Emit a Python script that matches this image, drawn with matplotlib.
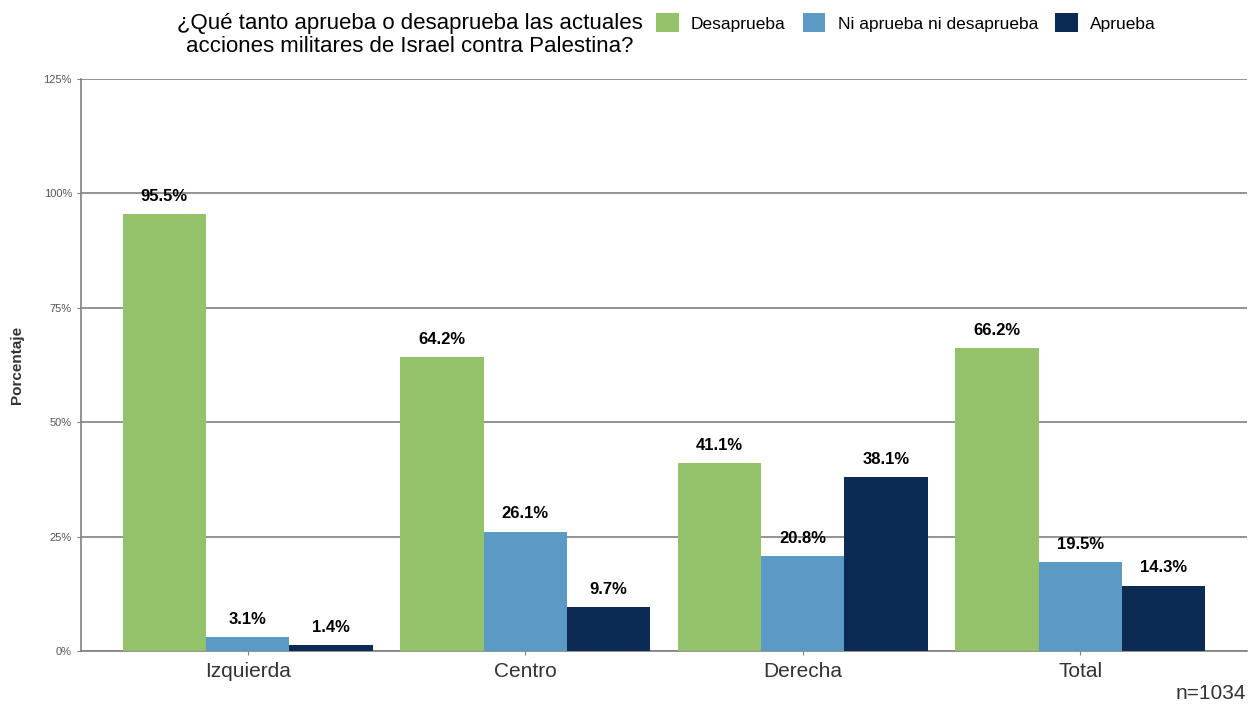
import matplotlib as mpl
mpl.use('Agg')
import matplotlib.pyplot as plt
from matplotlib.patches import Patch
import numpy as np

plt.rcParams['font.family'] = ['Liberation Sans', 'DejaVu Sans']

groups = ['Izquierda', 'Centro', 'Derecha', 'Total']
series = ['Desaprueba', 'Ni aprueba ni desaprueba', 'Aprueba']
desaprueba = [95.5, 64.2, 41.1, 66.2]
ni_ni = [3.1, 26.1, 20.8, 19.5]
aprueba = [1.4, 9.7, 38.1, 14.3]
colors = ['#93c26a', '#5b9ac4', '#0b2b55']
yticks = [0, 25, 50, 75, 100, 125]

fig = plt.figure(figsize=(12.52, 7.09), dpi=100)
ax = fig.add_axes([0.0647, 0.0818, 0.9313, 0.8068])

x = np.arange(len(groups))
w = 0.3
for i, (vals, c) in enumerate(zip([desaprueba, ni_ni, aprueba], colors)):
    pos = x + (i - 1) * w
    ax.bar(pos, vals, width=w, color=c, zorder=3)
    for p, v in zip(pos, vals):
        ax.text(p, v + 2.2, f'{v:.1f}%', ha='center', va='bottom',
                fontsize=12, fontweight='bold', color='black', zorder=4)

ax.set_xlim(-0.6, 3.6)
ax.set_ylim(0, 125)
ax.set_yticks(yticks)
ax.set_yticklabels([f'{t}%' for t in yticks], fontsize=8, color='#555555')
ax.set_xticks(x)
ax.set_xticklabels(groups, fontsize=15, color='#333333')
ax.yaxis.grid(True, color='#808080', linewidth=1.2, zorder=0)
ax.set_axisbelow(True)
for s in ['top', 'right']:
    ax.spines[s].set_visible(False)
for s in ['left', 'bottom']:
    ax.spines[s].set_color('#808080')
    ax.spines[s].set_linewidth(1.2)
ax.tick_params(axis='both', length=3, color='#808080')
ax.tick_params(axis='x', pad=5)
ax.set_ylabel('Porcentaje', fontsize=11, fontweight='bold', color='#333333', labelpad=14)

fig.text(0.3275, 0.951, '¿Qué tanto aprueba o desaprueba las actuales\nacciones militares de Israel contra Palestina?',
         ha='center', va='center', fontsize=16, linespacing=1.15, color='black')

handles = [Patch(facecolor=c, edgecolor='none') for c in colors]
fig.legend(handles, series, loc='center left', bbox_to_anchor=(0.524, 0.968), ncol=3,
           frameon=False, fontsize=12.5, handlelength=1.3, handleheight=1.3,
           handletextpad=0.7, columnspacing=1.0, borderaxespad=0, borderpad=0)

fig.text(0.995, 0.008, 'n=1034', ha='right', va='bottom', fontsize=15, color='#333333')

plt.savefig('out.png', dpi=100)
